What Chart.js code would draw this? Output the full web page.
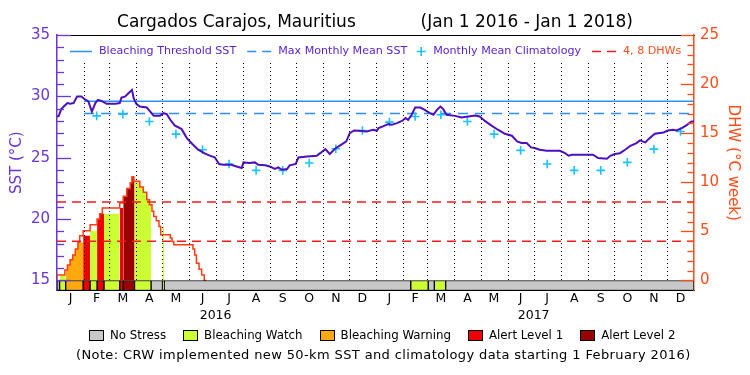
<!DOCTYPE html>
<html>
<head>
<meta charset="utf-8">
<script src="https://cdn.jsdelivr.net/npm/chart.js@4.4.0/dist/chart.umd.min.js"></script>
<style>
  html, body { margin: 0; padding: 0; background: #fff; }
  #wrap { position: relative; width: 750px; height: 375px; font-family: "DejaVu Sans", sans-serif; }
  #wrap canvas { position: absolute; left: 0; top: 0; }
  #stressKey { position: absolute; left: 89px; top: 328px; height: 14px; display: flex; align-items: center; font-size: 11.8px; color: #000; }
  #stressKey .box { width: 15px; height: 11px; border: 1px solid #000; box-sizing: border-box; margin-right: 6px; }
  #stressKey .txt { margin-right: 17px; white-space: nowrap; }
  #note { position: absolute; left: 76px; top: 347px; font-size: 13px; letter-spacing: 0.38px; color: #000; white-space: nowrap; }
</style>
</head>
<body>
<div id="wrap">
  <canvas id="chart" width="750" height="375"></canvas>
  <div id="stressKey"></div>
  <div id="note">(Note: CRW implemented new 50-km SST and climatology data starting 1 February 2016)</div>
</div>
<script>
// days counted from Jan 1 2016
const sstDays = [0, 2, 5, 9, 12, 15, 19, 23, 28, 31, 36, 40, 44, 47, 51, 57, 67, 72, 74, 78, 82, 86, 88, 91, 95, 103, 107, 111, 118, 122, 126, 130, 135, 143, 149, 155, 162, 170, 176, 181, 186, 191, 200, 206, 212, 214, 221, 227, 231, 239, 244, 250, 254, 258, 264, 267, 274, 277, 287, 298, 302, 308, 313, 319, 325, 332, 336, 341, 346, 355, 363,
  367, 369, 374, 380, 384, 390, 396, 400, 403, 407, 411, 417, 422, 428, 432, 436, 440, 443, 447, 457, 464, 472, 480, 485, 491, 499, 506, 514, 522, 528, 533, 539, 544, 548, 554, 562, 577, 583, 587, 591, 615, 621, 631, 635, 640, 646, 652, 658, 665, 669, 675, 679, 686, 696, 701, 707, 711, 717, 723, 728, 731];
const sstVals = [28.36, 28.4, 28.98, 29.25, 29.45, 29.4, 29.45, 29.98, 29.98, 29.8, 29.58, 28.76, 29.45, 29.72, 29.63, 29.39, 29.39, 29.45, 29.9, 29.98, 30.26, 30.53, 29.85, 29.39, 29.17, 29.09, 28.76, 28.41, 28.41, 28.63, 28.55, 28.09, 27.63, 27.33, 26.6, 26.14, 25.65, 25.33, 25.15, 25.04, 24.49, 24.43, 24.43, 24.29, 24.16, 24.62, 24.57, 24.62, 24.43, 24.38, 24.29, 24.08, 24.21, 24.02, 24.08, 24.38, 24.49, 25.02, 25.1, 25.16, 25.37, 25.7, 25.3, 25.73, 26.0, 26.33, 27.0, 27.22, 27.2, 27.14, 27.28,
  27.2, 27.41, 27.55, 27.74, 27.68, 27.82, 28.0, 28.23, 28.09, 28.5, 29.09, 29.09, 28.9, 28.63, 28.5, 28.9, 29.17, 28.98, 28.5, 28.41, 28.28, 28.36, 28.44, 28.36, 28.0, 27.6, 27.28, 26.95, 26.79, 26.33, 26.2, 26.2, 25.84, 25.79, 25.65, 25.57, 25.57, 25.37, 25.16, 25.24, 25.24, 24.97, 24.92, 25.16, 25.3, 25.37, 25.65, 25.97, 26.19, 26.41, 26.25, 26.52, 26.95, 27.06, 27.22, 27.28, 27.22, 27.41, 27.68, 27.95, 27.95];

const clim2016 = [null, 28.41, 28.55, 27.95, 26.92, 25.65, 24.49, 23.97, 23.97, 24.57, 25.73, 27.22];
const clim2017 = [27.9, 28.36, 28.5, 27.95, 26.92, 25.6, 24.49, 23.97, 23.97, 24.62, 25.7, 27.14];

const mmm = 28.6;
const threshold = 29.6;
const thresholdStart = 31; // Feb 1 2016
const dhwLevels = [4, 8];

const dhwDays = [0, 9, 12, 15, 18, 21, 24, 26, 30, 38, 46, 49, 52, 72, 76, 80, 84, 86, 88, 95, 99, 103, 106, 109, 111, 114, 117, 119, 130, 132, 134, 156, 158, 160, 163, 166, 169, 171];
const dhwVals = [0, 0.56, 1.07, 1.58, 2.1, 2.6, 3.2, 3.87, 4.55, 5.06, 5.67, 6.26, 6.8, 7.38, 7.9, 8.57, 9.36, 9.94, 10.55, 10.1, 9.53, 8.98, 8.23, 7.72, 7.04, 6.52, 6.08, 5.5, 4.65, 4.31, 3.97, 3.63, 3.19, 2.6, 1.76, 1.15, 0.56, 0];

const levelStart = [0, 3, 10, 30, 38, 46, 54, 72, 76, 89, 108, 121, 123, 406, 426, 433, 446];
const levelName = ['none', 'watch', 'warning', 'alert1', 'watch', 'alert1', 'watch', 'alert1', 'alert2', 'watch', 'none', 'watch', 'none', 'watch', 'none', 'watch', 'none'];

const stressKeys = ['none', 'watch', 'warning', 'alert1', 'alert2'];
const stressLabels = ['No Stress', 'Bleaching Watch', 'Bleaching Warning', 'Alert Level 1', 'Alert Level 2'];
const stressColors = { none: '#c8c8c8', watch: '#ccff33', warning: '#ffa90f', alert1: '#ee0000', alert2: '#990000' };

const monthLetters = ['J', 'F', 'M', 'A', 'M', 'J', 'J', 'A', 'S', 'O', 'N', 'D'];
const yearLabels = ['2016', '2017'];

// calendar helpers
const t0 = Date.UTC(2016, 0, 1);
const dayOf = (y, m) => (Date.UTC(y, m, 1) - t0) / 86400000;
const monthStarts = [], monthMids = [];
for (let y = 2016; y <= 2017; y++) {
  for (let m = 0; m < 12; m++) {
    const s = dayOf(y, m), e = dayOf(y, m + 1);
    monthStarts.push(s);
    monthMids.push((s + e) / 2);
  }
}
const totalDays = dayOf(2018, 0);
const yearMids = [dayOf(2016, 6), dayOf(2017, 6)];

const purple = '#6a35d9';
const orange = '#ff4d1a';
const blue = '#2a90ff';
const cyan = '#19c3ff';
const red = '#ee1c1c';

// y scales: left SST, right DHW share the same pixel grid
const yMin = 14.18, yMax = 35;
const y2Min = -(15 - yMin) * 25 / 20, y2Max = 25;

function dhwAt(day) {
  let v = 0;
  for (let i = 0; i < dhwDays.length; i++) if (dhwDays[i] <= day) v = dhwVals[i];
  return v;
}

const segEnd = i => (i + 1 < levelStart.length ? levelStart[i + 1] : totalDays);

// fill under the DHW curve: one stepped area per stress segment
const fillSets = [];
levelStart.forEach((s, i) => {
  const lvl = levelName[i];
  if (lvl === 'none') return;
  const e = segEnd(i);
  const pts = [{ x: s, y: dhwAt(s) }];
  dhwDays.forEach((d, j) => { if (d > s && d < e) pts.push({ x: d, y: dhwVals[j] }); });
  pts.push({ x: e, y: dhwAt(e - 0.001) });
  if (pts.every(p => p.y === 0)) return;
  fillSets.push({
    label: lvl, xAxisID: 'x', yAxisID: 'y2',
    data: pts, stepped: 'after',
    borderWidth: 0, borderColor: 'rgba(0,0,0,0)', pointRadius: 0,
    backgroundColor: stressColors[lvl], fill: 'origin', order: 7
  });
});

const stressSegs = levelStart.map((s, i) => ({ x: [s, segEnd(i)], y: (yMin + 15) / 2 }));

const climPoints = monthMids.map((d, i) => ({ x: d, y: i < 12 ? clim2016[i] : clim2017[i - 12] }));

const datasets = [
  {
    type: 'bar', indexAxis: 'y', xAxisID: 'x', yAxisID: 'y',
    data: stressSegs,
    backgroundColor: levelName.map(n => stressColors[n]),
    borderColor: '#000', borderWidth: 1, borderSkipped: false,
    barThickness: 10, order: 0
  },
  {
    label: 'SST', xAxisID: 'x', yAxisID: 'y',
    data: sstDays.map((d, i) => ({ x: d, y: sstVals[i] })),
    borderColor: '#4d0fbf', borderWidth: 2, pointRadius: 0, tension: 0, order: 1
  },
  {
    label: 'Monthly Mean Climatology', xAxisID: 'x', yAxisID: 'y',
    data: climPoints, showLine: false,
    pointStyle: 'cross', pointRadius: 4.3, pointBorderWidth: 1.6,
    pointBorderColor: cyan, borderColor: cyan, order: 2
  },
  {
    label: 'Bleaching Threshold SST', xAxisID: 'x', yAxisID: 'y',
    data: [{ x: thresholdStart, y: threshold }, { x: totalDays, y: threshold }],
    borderColor: blue, borderWidth: 1.5, pointRadius: 0, order: 3
  },
  {
    label: 'Max Monthly Mean SST', xAxisID: 'x', yAxisID: 'y',
    data: [{ x: thresholdStart, y: mmm }, { x: totalDays, y: mmm }],
    borderColor: blue, borderWidth: 1.5, borderDash: [10, 7], pointRadius: 0, order: 4
  },
  ...dhwLevels.map(v => ({
    label: v + ' DHW', xAxisID: 'x', yAxisID: 'y2',
    data: [{ x: 0, y: v }, { x: totalDays, y: v }],
    borderColor: red, borderWidth: 1.5, borderDash: [9, 6], pointRadius: 0, order: 5
  })),
  {
    label: 'DHW', xAxisID: 'x', yAxisID: 'y2',
    data: dhwDays.map((d, i) => ({ x: d, y: dhwVals[i] })),
    stepped: 'after', borderColor: '#ff3d14', borderWidth: 1.5, pointRadius: 0, order: 6
  },
  ...fillSets
];

// dotted month lines and inward axis ticks
const axisTicks = {
  id: 'axisTicks',
  afterDatasetsDraw(chart) {
    const { ctx, chartArea, scales } = chart;
    ctx.save();
    ctx.lineWidth = 1;
    ctx.strokeStyle = '#000';
    ctx.setLineDash([1, 3]);
    const yb = scales.y.getPixelForValue(15);
    monthStarts.forEach(d => {
      if (d <= 0) return;
      const px = Math.round(scales.x.getPixelForValue(d)) + 0.5;
      ctx.beginPath();
      ctx.moveTo(px, chartArea.top + 28);
      ctx.lineTo(px, yb);
      ctx.stroke();
    });
    ctx.setLineDash([]);
    ctx.lineWidth = 1.3;
    ctx.strokeStyle = purple;
    scales.y.ticks.forEach(t => {
      const py = Math.round(scales.y.getPixelForValue(t.value)) + 0.5;
      const len = t.value % 5 === 0 ? 14 : 7;
      ctx.beginPath();
      ctx.moveTo(chartArea.left, py);
      ctx.lineTo(chartArea.left + len, py);
      ctx.stroke();
    });
    ctx.strokeStyle = orange;
    scales.y2.ticks.forEach(t => {
      const py = Math.round(scales.y2.getPixelForValue(t.value)) + 0.5;
      const len = t.value % 5 === 0 ? 13 : 6.5;
      ctx.beginPath();
      ctx.moveTo(chartArea.right, py);
      ctx.lineTo(chartArea.right - len, py);
      ctx.stroke();
    });
    ctx.restore();
  }
};

const legendItems = [
  { text: 'Bleaching Threshold SST', kind: 'solid', color: blue, textColor: '#5a22cc' },
  { text: 'Max Monthly Mean SST', kind: 'dash', color: blue, textColor: '#5a22cc' },
  { text: 'Monthly Mean Climatology', kind: 'cross', color: cyan, textColor: '#5a22cc' },
  { text: '4, 8 DHWs', kind: 'dash', color: red, textColor: orange }
];

const topLegend = {
  id: 'topLegend',
  afterDatasetsDraw(chart) {
    const { ctx, chartArea } = chart;
    const y = chartArea.top + 16.5;
    let x = chartArea.left + 13;
    ctx.save();
    ctx.font = '11.1px "DejaVu Sans", sans-serif';
    ctx.textBaseline = 'middle';
    legendItems.forEach(it => {
      ctx.strokeStyle = it.color;
      ctx.lineWidth = 1.5;
      ctx.beginPath();
      if (it.kind === 'solid') {
        ctx.moveTo(x, y); ctx.lineTo(x + 22, y); ctx.stroke();
        x += 29;
      } else if (it.kind === 'dash') {
        ctx.setLineDash([9, 6]);
        ctx.moveTo(x, y); ctx.lineTo(x + 24, y); ctx.stroke();
        ctx.setLineDash([]);
        x += 31;
      } else {
        ctx.lineWidth = 1.6;
        ctx.moveTo(x + 3, y - 4.5); ctx.lineTo(x + 3, y + 4.5);
        ctx.moveTo(x - 1.5, y); ctx.lineTo(x + 7.5, y);
        ctx.stroke();
        x += 15;
      }
      ctx.fillStyle = it.textColor;
      ctx.fillText(it.text, x, y);
      x += ctx.measureText(it.text).width + 11;
    });
    ctx.restore();
  }
};

Chart.defaults.font.family = '"DejaVu Sans", sans-serif';

new Chart(document.getElementById('chart'), {
  type: 'line',
  data: { datasets: datasets },
  options: {
    responsive: false,
    animation: false,
    layout: { padding: { left: 0, right: 0, top: 0, bottom: 44.5 } },
    plugins: {
      legend: { display: false },
      tooltip: { enabled: false },
      title: {
        display: true,
        text: 'Cargados Carajos, Mauritius            (Jan 1 2016 - Jan 1 2018)',
        color: '#000',
        font: { size: 17, weight: 'normal' },
        padding: { top: 12, bottom: 2.6 }
      }
    },
    scales: {
      x: {
        type: 'linear', position: 'bottom', min: 0, max: totalDays, weight: 0,
        afterBuildTicks: s => { s.ticks = monthMids.map(v => ({ value: v })); },
        afterFit: s => { s.height = 18; },
        ticks: {
          callback: (v, i) => monthLetters[i % 12],
          autoSkip: false, maxRotation: 0, minRotation: 0,
          color: '#000', font: { size: 12.5 }, padding: 1
        },
        grid: { display: false, drawTicks: false },
        border: { display: true, color: '#000', width: 1 }
      },
      xYear: {
        type: 'linear', position: 'bottom', min: 0, max: totalDays, weight: 1,
        afterBuildTicks: s => { s.ticks = yearMids.map(v => ({ value: v })); },
        afterFit: s => { s.height = 22; },
        ticks: {
          callback: (v, i) => yearLabels[i],
          autoSkip: false, maxRotation: 0, minRotation: 0,
          color: '#000', font: { size: 12.5 }, padding: 0
        },
        grid: { display: false, drawTicks: false },
        border: { display: false }
      },
      xTop: {
        type: 'linear', position: 'top', min: 0, max: totalDays,
        afterFit: s => { s.height = 0; },
        ticks: { display: false },
        grid: { display: false, drawTicks: false },
        border: { display: true, color: '#000', width: 1 }
      },
      y: {
        type: 'linear', position: 'left', min: yMin, max: yMax, offset: false,
        afterBuildTicks: s => { const t = []; for (let v = 15; v <= 35; v++) t.push({ value: v }); s.ticks = t; },
        afterFit: s => { s.width = 57; },
        ticks: {
          callback: v => (v % 5 === 0 ? String(v) : ''),
          autoSkip: false, color: purple, font: { size: 15 }, padding: 7
        },
        grid: { display: false, drawTicks: false, offset: false },
        border: { display: true, color: purple, width: 1.5 },
        title: { display: true, text: 'SST (°C)', color: purple, font: { size: 15 }, padding: { top: 8, bottom: 0 } }
      },
      y2: {
        type: 'linear', position: 'right', min: y2Min, max: y2Max,
        afterBuildTicks: s => { const t = []; for (let v = 0; v <= 25; v++) t.push({ value: v }); s.ticks = t; },
        afterFit: s => { s.width = 56; },
        ticks: {
          callback: v => (v % 5 === 0 ? String(v) : ''),
          autoSkip: false, color: orange, font: { size: 15 }, padding: 6
        },
        grid: { display: false, drawTicks: false },
        border: { display: true, color: orange, width: 1.5 },
        title: { display: true, text: 'DHW (°C week)', color: orange, font: { size: 15 }, padding: { top: 8.5, bottom: 0 } }
      }
    }
  },
  plugins: [axisTicks, topLegend]
});

// stress level key under the chart
const key = document.getElementById('stressKey');
stressKeys.forEach((k, i) => {
  const b = document.createElement('span');
  b.className = 'box';
  b.style.background = stressColors[k];
  const t = document.createElement('span');
  t.className = 'txt';
  t.textContent = stressLabels[i];
  key.appendChild(b);
  key.appendChild(t);
});
</script>
</body>
</html>
